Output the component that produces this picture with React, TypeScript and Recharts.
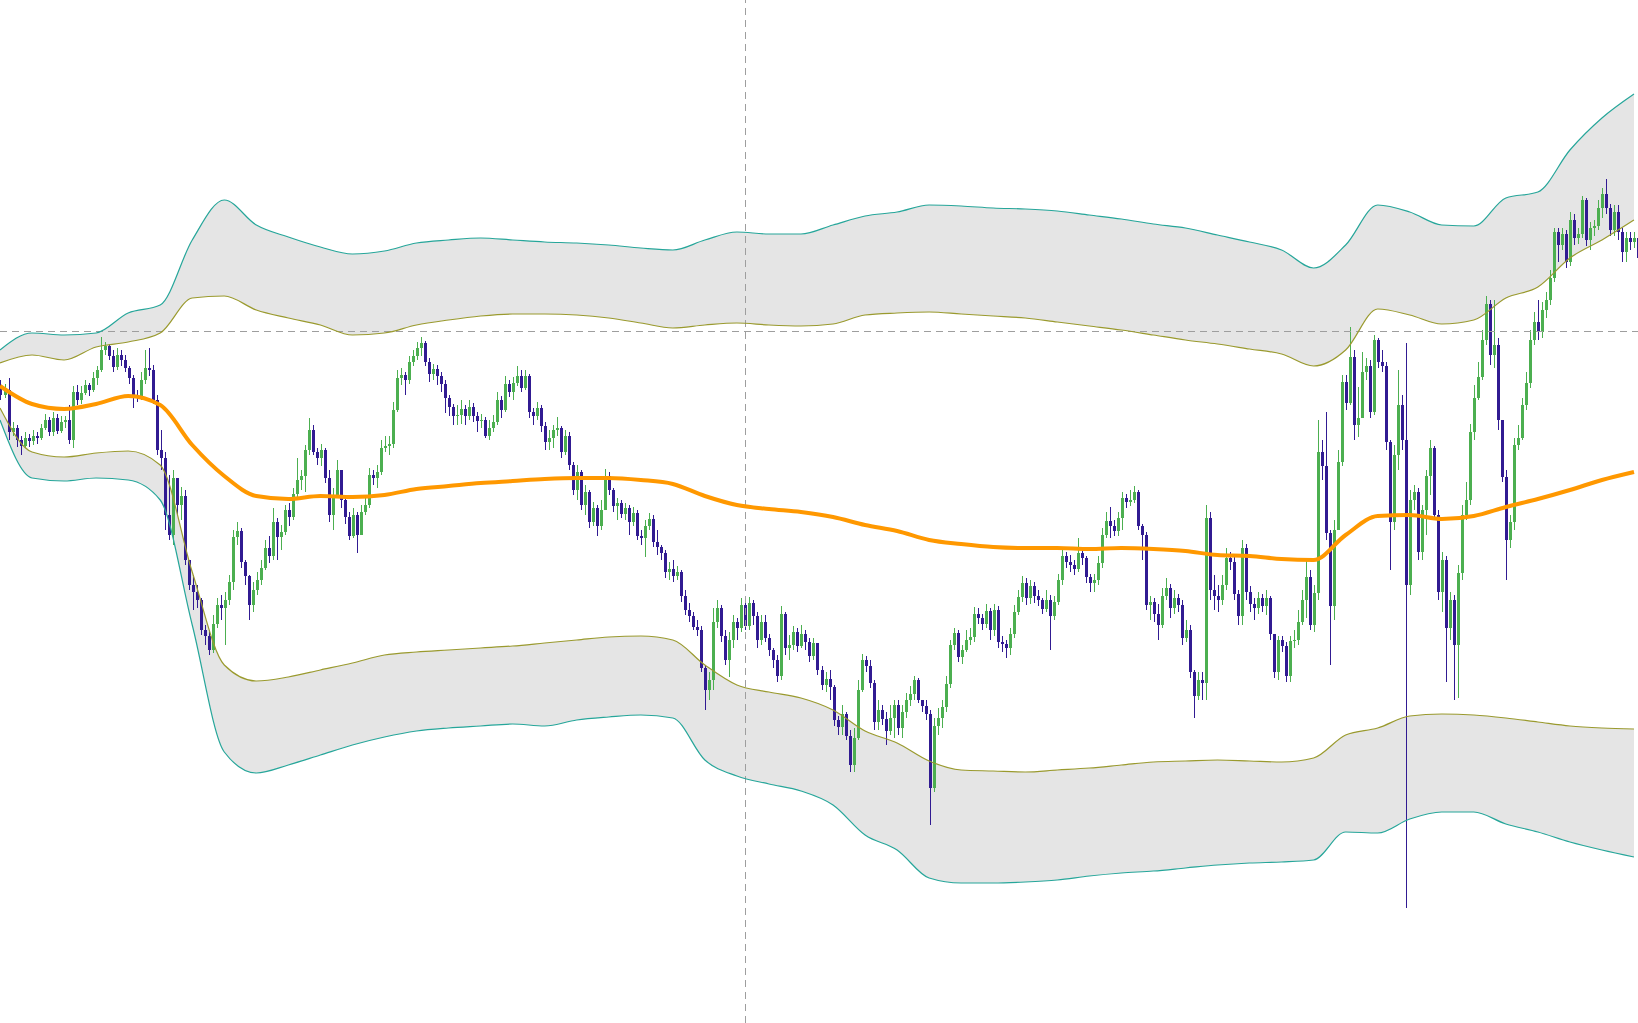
import React from 'react';
import {
  ComposedChart,
  Bar,
  Line,
  Area,
  XAxis,
  YAxis,
  ReferenceLine,
} from 'recharts';

// price series, one value per candle (open = previous close)
const firstOpen = 615;

const closes = [
  605, 610, 568, 572, 560, 554, 562, 559, 564, 562,
  572, 580, 568, 582, 569, 578, 580, 560, 608, 600,
  607, 615, 610, 622, 630, 650, 654, 644, 633, 645,
  640, 632, 622, 605, 604, 620, 632, 630, 600, 550,
  542, 485, 465, 522, 495, 504, 440, 415, 408, 400,
  370, 364, 350, 376, 395, 392, 400, 418, 463, 469,
  438, 424, 395, 410, 420, 432, 452, 444, 478, 463,
  468, 490, 483, 506, 520, 524, 550, 570, 548, 542,
  550, 522, 485, 505, 530, 500, 483, 464, 485, 465,
  488, 495, 525, 522, 528, 552, 554, 556, 590, 622,
  625, 620, 638, 644, 652, 657, 638, 626, 631, 624,
  616, 602, 593, 584, 585, 591, 584, 593, 584, 579,
  580, 564, 572, 578, 600, 590, 616, 608, 617, 624,
  612, 624, 588, 584, 592, 574, 558, 562, 570, 572,
  548, 564, 535, 510, 528, 495, 508, 478, 492, 474,
  490, 524, 510, 494, 497, 486, 492, 478, 487, 464,
  462, 474, 481, 458, 453, 447, 428, 431, 424, 428,
  404, 390, 384, 373, 370, 332, 310, 320, 378, 392,
  364, 340, 360, 378, 372, 395, 374, 397, 384, 360,
  378, 362, 350, 340, 324, 386, 352, 355, 368, 354,
  366, 358, 344, 357, 330, 315, 321, 313, 280, 273,
  286, 264, 235, 262, 310, 340, 334, 317, 278, 290,
  281, 269, 282, 295, 272, 288, 300, 306, 320, 300,
  294, 286, 212, 274, 282, 293, 316, 355, 367, 343,
  350, 360, 363, 386, 382, 376, 389, 370, 390, 358,
  356, 352, 366, 388, 403, 417, 402, 414, 404, 400,
  391, 400, 384, 398, 420, 444, 438, 435, 431, 447,
  442, 423, 417, 420, 437, 465, 479, 474, 469, 482,
  502, 498, 500, 508, 474, 465, 395, 398, 386, 375,
  404, 412, 392, 402, 395, 362, 370, 328, 304, 320,
  317, 482, 410, 404, 400, 415, 442, 438, 406, 384,
  452, 408, 396, 392, 402, 394, 402, 366, 328, 360,
  354, 324, 359, 360, 378, 400, 423, 375, 407, 548,
  534, 467, 394, 470, 538, 618, 597, 643, 575, 582,
  628, 634, 588, 660, 638, 634, 558, 478, 545, 595,
  560, 415, 500, 508, 448, 490, 524, 552, 485, 408,
  440, 372, 400, 355, 427, 485, 500, 568, 602, 623,
  660, 696, 645, 655, 580, 523, 460, 478, 555, 562,
  595, 617, 660, 678, 668, 690, 700, 722, 768, 755,
  766, 738, 780, 762, 766, 800, 760, 772, 774, 792,
  806, 792, 770, 788, 768, 748, 762, 758, 762, 742,
];

const highs = [
  620, 616, 622, 578, 575, 564, 568, 566, 570, 568,
  576, 586, 583, 588, 586, 584, 584, 595, 614, 615,
  614, 620, 617, 628, 634, 663, 658, 656, 650, 652,
  650, 645, 634, 625, 610, 628, 650, 652, 635, 605,
  570, 548, 525, 530, 522, 513, 510, 440, 425, 415,
  402, 375, 370, 385, 402, 405, 408, 425, 470, 478,
  472, 440, 425, 418, 428, 440, 460, 464, 492, 482,
  475, 495, 497, 512, 542, 530, 555, 582, 575, 552,
  556, 552, 530, 512, 540, 530, 502, 488, 492, 488,
  495, 503, 532, 530, 535, 560, 564, 564, 598, 630,
  632, 628, 644, 650, 658, 663, 659, 642, 636, 635,
  628, 620, 605, 596, 595, 600, 595, 600, 597, 588,
  586, 583, 580, 585, 608, 604, 624, 620, 623, 634,
  630, 630, 626, 592, 598, 595, 578, 570, 575, 583,
  574, 570, 568, 538, 535, 530, 515, 510, 498, 495,
  500, 531, 528, 512, 502, 500, 497, 495, 493, 490,
  470, 480, 487, 485, 470, 455, 450, 438, 440, 434,
  430, 410, 397, 388, 380, 374, 335, 328, 392, 400,
  395, 370, 368, 385, 382, 402, 397, 403, 400, 388,
  385, 385, 366, 352, 345, 394, 388, 365, 374, 372,
  375, 370, 362, 362, 355, 334, 328, 330, 315, 284,
  295, 288, 270, 272, 320, 346, 344, 340, 320, 300,
  295, 288, 295, 300, 300, 295, 307, 314, 324, 322,
  300, 300, 290, 282, 292, 300, 324, 360, 372, 370,
  355, 370, 372, 393, 392, 386, 396, 392, 396, 394,
  364, 360, 372, 395, 410, 424, 422, 420, 418, 410,
  402, 410, 405, 404, 426, 450, 448, 445, 440, 462,
  450, 444, 426, 426, 444, 472, 488, 493, 480, 488,
  508, 506, 510, 514, 510, 476, 468, 404, 402, 396,
  412, 422, 416, 410, 406, 400, 380, 375, 330, 328,
  328, 495, 488, 425, 415, 425, 452, 448, 444, 410,
  460, 456, 414, 402, 408, 406, 410, 404, 360, 364,
  364, 358, 364, 370, 390, 410, 440, 430, 415, 580,
  560, 588, 470, 480, 550, 625, 625, 673, 650, 613,
  648, 642, 640, 665, 662, 650, 638, 560, 555, 630,
  605, 657, 510, 515, 512, 495, 530, 560, 554, 490,
  448, 444, 408, 405, 435, 495, 518, 576, 615, 638,
  670, 704, 700, 700, 662, 580, 530, 485, 562, 575,
  602, 628, 670, 688, 700, 698, 708, 730, 772, 772,
  772, 770, 788, 786, 772, 804, 802, 778, 780, 800,
  812, 821, 796, 795, 795, 772, 768, 768, 768, 766,
];

const lows = [
  600, 602, 560, 564, 553, 545, 552, 553, 555, 556,
  560, 570, 564, 564, 566, 567, 572, 556, 552, 595,
  596, 605, 604, 608, 615, 628, 645, 640, 628, 630,
  634, 628, 616, 592, 598, 600, 616, 624, 596, 545,
  530, 470, 460, 455, 485, 480, 435, 410, 390, 392,
  365, 355, 345, 347, 372, 380, 355, 395, 410, 455,
  432, 415, 380, 388, 405, 415, 430, 437, 440, 440,
  450, 465, 474, 480, 502, 510, 508, 545, 545, 535,
  534, 517, 478, 470, 502, 492, 476, 460, 462, 447,
  465, 485, 492, 515, 512, 525, 548, 545, 552, 588,
  615, 605, 616, 634, 640, 644, 634, 618, 620, 615,
  608, 587, 584, 575, 575, 576, 575, 580, 578, 568,
  572, 562, 560, 568, 575, 582, 588, 603, 600, 614,
  608, 610, 582, 575, 580, 568, 550, 550, 552, 564,
  542, 545, 530, 505, 500, 490, 485, 472, 474, 464,
  470, 498, 505, 488, 480, 482, 480, 465, 474, 460,
  455, 443, 470, 453, 445, 440, 422, 420, 418, 420,
  398, 385, 378, 370, 364, 328, 290, 300, 310, 372,
  358, 335, 323, 352, 360, 368, 370, 370, 375, 352,
  355, 358, 344, 332, 318, 320, 345, 340, 350, 348,
  352, 350, 338, 340, 325, 310, 308, 300, 274, 265,
  265, 260, 228, 228, 260, 308, 328, 312, 270, 270,
  275, 255, 265, 262, 265, 262, 282, 294, 300, 297,
  288, 280, 175, 208, 265, 272, 288, 312, 350, 338,
  336, 348, 355, 358, 376, 370, 372, 360, 364, 352,
  348, 342, 345, 362, 385, 398, 395, 396, 397, 394,
  386, 388, 350, 380, 395, 415, 432, 428, 425, 428,
  435, 417, 408, 408, 415, 432, 462, 462, 464, 464,
  470, 492, 494, 497, 470, 440, 390, 380, 378, 360,
  372, 400, 382, 386, 388, 355, 358, 322, 282, 300,
  300, 300, 400, 390, 388, 395, 410, 430, 400, 375,
  375, 400, 388, 380, 386, 388, 385, 360, 322, 320,
  348, 318, 318, 352, 355, 375, 382, 370, 368, 400,
  520, 460, 335, 380, 480, 534, 590, 595, 560, 563,
  588, 620, 582, 585, 632, 628, 550, 430, 470, 530,
  550, 92, 405, 490, 440, 440, 465, 505, 480, 400,
  388, 318, 360, 300, 302, 420, 480, 495, 560, 600,
  620, 655, 635, 632, 570, 518, 420, 452, 470, 550,
  560, 590, 612, 655, 660, 662, 682, 695, 718, 738,
  750, 732, 734, 755, 756, 762, 754, 750, 764, 770,
  782, 786, 764, 764, 760, 738, 738, 750, 752, 738,
];

// bands, sampled every 8 candles
const outerUpper = [
  650, 667, 665, 667, 687, 695, 760, 800, 775, 763, 753, 746, 749,
  757, 760, 762, 760, 758, 757, 755, 752, 750, 760, 768, 766, 766,
  775, 784, 788, 795, 794, 792, 791, 789, 785, 781, 776, 772, 765,
  758, 750, 732, 755, 795, 788, 775, 774, 802, 808, 850, 882, 906,
];
const innerUpper = [
  637, 645, 640, 653, 658, 667, 702, 704, 690, 682, 675, 665, 667,
  675, 680, 684, 686, 686, 685, 682, 677, 672, 675, 677, 675, 674,
  676, 685, 687, 688, 686, 684, 682, 678, 674, 670, 665, 660, 656,
  651, 646, 634, 650, 691, 685, 676, 680, 702, 713, 742, 760, 780,
];
const innerLower = [
  592, 548, 543, 547, 549, 535, 428, 335, 319, 323, 330, 337, 345,
  348, 350, 352, 354, 357, 360, 363, 364, 360, 335, 315, 308, 302,
  290, 269, 257, 239, 230, 229, 228, 230, 232, 235, 238, 239, 240,
  239, 238, 242, 265, 272, 284, 286, 285, 282, 278, 274, 272, 271,
];
const outerLower = [
  580, 522, 519, 522, 520, 500, 375, 248, 227, 235, 245, 255, 263,
  269, 272, 274, 276, 274, 280, 283, 285, 282, 240, 224, 216, 209,
  195, 165, 150, 122, 117, 117, 118, 120, 124, 127, 129, 132, 135,
  137, 138, 140, 168, 167, 181, 188, 188, 176, 168, 158, 150, 143,
];
const movingAvg = [
  614, 596, 591, 596, 604, 595, 555, 524, 504, 501, 504, 503, 505,
  511, 514, 517, 519, 521, 522, 522, 520, 516, 504, 495, 491, 488,
  483, 475, 469, 460, 456, 453, 452, 452, 451, 452, 451, 449, 445,
  444, 441, 440, 465, 484, 485, 481, 484, 493, 501, 510, 520, 528,
];

// crosshair position (candle index, price)
const crossIndex = 186.15;
const crossPrice = 668.5;

const UP = '#4caf50';
const DOWN = '#311b92';

const candles = closes.map((close, i) => {
  const open = i === 0 ? firstOpen : closes[i - 1];
  return {
    i,
    open,
    close,
    high: Math.max(highs[i], open, close),
    low: Math.min(lows[i], open, close),
  };
});

const lastIdx = closes.length - 1;
const bandAt = outerUpper.map((_, k) => Math.min(k * 8, lastIdx));
const bands = bandAt.map((i, k) => ({
  i,
  outerUpper: outerUpper[k],
  innerUpper: innerUpper[k],
  innerLower: innerLower[k],
  outerLower: outerLower[k],
  ma: movingAvg[k],
}));

const Candle = (props: any) => {
  const { x, y, width, height, payload } = props;
  if (x == null || y == null || !payload) return null;
  const { open, close, high, low } = payload;
  const color = close >= open ? UP : DOWN;
  const span = high - low || 1;
  const toY = (v: number) => y + ((high - v) / span) * height;
  const top = toY(Math.max(open, close));
  const bottom = toY(Math.min(open, close));
  const cx = Math.round(x + width / 2) + 0.5;
  return (
    <g>
      <line x1={cx} x2={cx} y1={y} y2={y + height} stroke={color} strokeWidth={1} shapeRendering="crispEdges" />
      <rect
        x={cx - 1.5}
        y={top}
        width={3}
        height={Math.max(1, bottom - top)}
        fill={color}
        shapeRendering="crispEdges"
      />
    </g>
  );
};

export default function App() {
  return (
    <div style={{ position: 'absolute', left: 0, top: 0, width: 1638, height: 1023, background: '#fff' }}>
      <ComposedChart
        width={1638}
        height={1023}
        data={candles}
        margin={{ top: 0, right: 0, bottom: 0, left: 0 }}
      >
        <XAxis type="number" dataKey="i" domain={[0, lastIdx]} hide />
        <YAxis type="number" domain={[-23, 1000]} hide />

        <Area
          data={bands}
          type="monotone"
          dataKey={(d: any) => [d.innerUpper, d.outerUpper]}
          stroke="none"
          fill="#e5e5e5"
          fillOpacity={1}
          activeDot={false}
          isAnimationActive={false}
        />
        <Area
          data={bands}
          type="monotone"
          dataKey={(d: any) => [d.outerLower, d.innerLower]}
          stroke="none"
          fill="#e5e5e5"
          fillOpacity={1}
          activeDot={false}
          isAnimationActive={false}
        />

        <ReferenceLine x={crossIndex} stroke="#9e9e9e" strokeDasharray="7 5" />
        <ReferenceLine y={crossPrice} stroke="#9e9e9e" strokeDasharray="7 5" />

        <Line data={bands} type="monotone" dataKey="outerUpper" stroke="#26a69a" strokeWidth={1.2} dot={false} activeDot={false} isAnimationActive={false} />
        <Line data={bands} type="monotone" dataKey="innerUpper" stroke="#9a9a2e" strokeWidth={1.2} dot={false} activeDot={false} isAnimationActive={false} />
        <Line data={bands} type="monotone" dataKey="innerLower" stroke="#9a9a2e" strokeWidth={1.2} dot={false} activeDot={false} isAnimationActive={false} />
        <Line data={bands} type="monotone" dataKey="outerLower" stroke="#26a69a" strokeWidth={1.2} dot={false} activeDot={false} isAnimationActive={false} />

        <Bar
          dataKey={(d: any) => [d.low, d.high]}
          barSize={3}
          shape={Candle}
          activeBar={false}
          isAnimationActive={false}
        />

        <Line data={bands} type="monotone" dataKey="ma" stroke="#ff9800" strokeWidth={4} dot={false} activeDot={false} isAnimationActive={false} />
      </ComposedChart>
    </div>
  );
}
